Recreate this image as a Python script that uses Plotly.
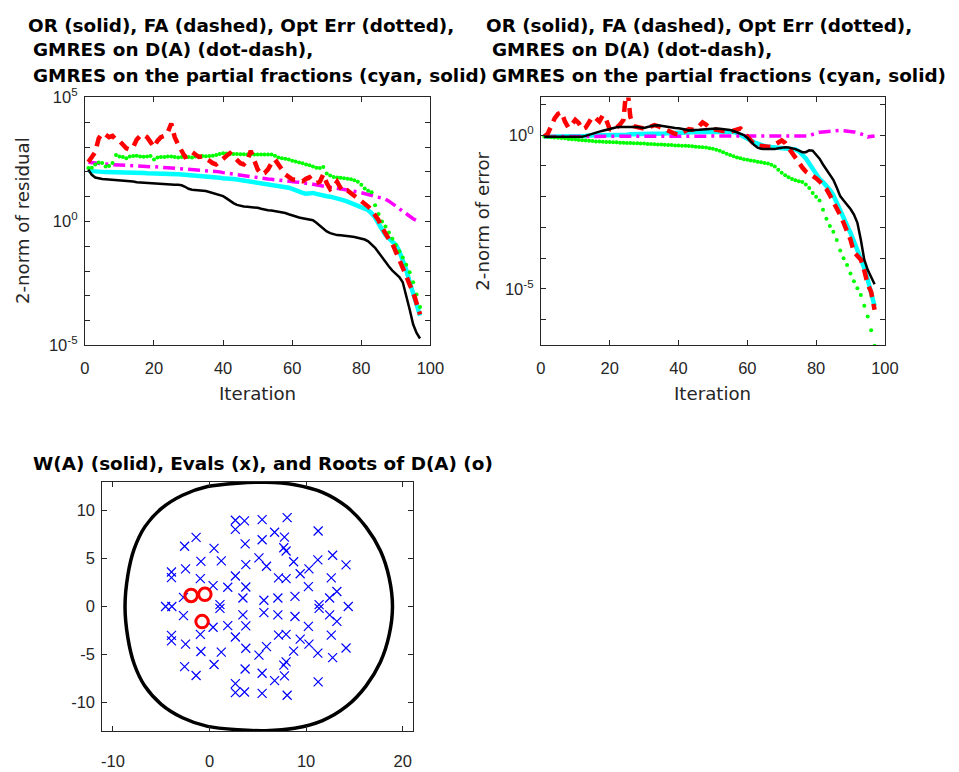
import plotly.graph_objects as go

# ---------------- data ----------------
iterations = list(range(1, 98))

# residual norms (log10), top-left panel
res_or_log10 = [2.09,1.88,1.77,1.73,1.71,1.70,1.69,1.68,1.67,1.67,
 1.66,1.66,1.64,1.61,1.58,1.57,1.56,1.55,1.54,1.53,
 1.52,1.50,1.49,1.49,1.48,1.48,1.48,1.46,1.40,1.32,
 1.28,1.27,1.26,1.25,1.23,1.19,1.15,1.11,1.07,1.02,
 0.93,0.83,0.74,0.67,0.62,0.60,0.59,0.58,0.57,0.55,
 0.51,0.47,0.45,0.44,0.42,0.40,0.38,0.34,0.29,0.24,
 0.20,0.16,0.13,0.10,0.08,0.05,-0.05,-0.18,-0.30,-0.40,
 -0.47,-0.52,-0.55,-0.56,-0.57,-0.59,-0.61,-0.63,-0.66,-0.69,
 -0.73,-0.80,-0.92,-1.06,-1.25,-1.45,-1.65,-1.82,-1.98,-2.12,
 -2.24,-2.45,-2.95,-3.55,-4.15,-4.50,-4.72]

res_fa_log10 = [2.40,2.60,2.80,3.35,3.55,3.50,3.40,3.45,3.30,3.25,
 3.10,2.95,2.90,3.00,3.30,3.45,3.50,3.40,3.20,3.00,
 3.25,3.40,3.45,3.60,3.95,3.40,3.10,2.85,2.60,2.65,
 2.80,2.70,2.60,2.62,2.55,2.45,2.35,2.30,2.40,2.55,
 2.65,2.75,2.60,2.45,2.35,2.30,2.45,2.85,2.50,2.10,
 1.90,1.95,2.10,2.35,2.50,2.30,2.05,1.90,1.80,1.70,
 1.68,1.65,1.62,1.72,1.78,1.62,1.55,1.60,1.90,1.55,
 1.30,1.40,1.60,1.35,1.20,1.25,1.15,1.00,0.90,0.80,
 0.70,0.60,0.45,0.25,0.05,-0.25,-0.50,-0.72,-0.90,-1.20,
 -1.55,-1.85,-2.20,-2.55,-2.85,-3.30,-3.75]

res_opt_log10 = [2.16,2.17,2.30,2.38,2.36,2.22,2.24,2.36,2.68,2.62,
 2.60,2.55,2.62,2.64,2.65,2.62,2.61,2.62,2.64,2.50,
 2.58,2.60,2.60,2.62,2.62,2.60,2.58,2.60,2.62,2.60,
 2.58,2.62,2.63,2.64,2.63,2.64,2.65,2.68,2.72,2.75,
 2.74,2.72,2.72,2.72,2.71,2.71,2.70,2.70,2.70,2.70,
 2.70,2.70,2.70,2.70,2.65,2.58,2.55,2.53,2.50,2.45,
 2.42,2.38,2.35,2.30,2.27,2.22,2.17,2.16,2.20,1.93,
 1.85,1.79,1.77,1.76,1.74,1.72,1.70,1.66,1.60,1.48,
 1.33,1.24,1.18,0.65,0.30,0.00,-0.20,-0.45,-0.70,-0.95,
 -1.20,-1.45,-1.75,-2.05,-2.45,-2.95,-3.45]

res_gm_log10 = [2.39,2.37,2.35,2.34,2.32,2.31,2.30,2.29,2.28,2.28,
 2.27,2.26,2.25,2.25,2.24,2.23,2.23,2.22,2.21,2.21,
 2.20,2.19,2.18,2.17,2.16,2.15,2.14,2.13,2.12,2.11,
 2.10,2.09,2.08,2.07,2.06,2.05,2.04,2.02,2.00,1.97,
 1.95,1.92,1.89,1.86,1.84,1.82,1.80,1.78,1.76,1.74,
 1.73,1.72,1.71,1.70,1.68,1.67,1.65,1.63,1.62,1.60,
 1.59,1.58,1.57,1.55,1.52,1.50,1.47,1.45,1.42,1.40,
 1.38,1.36,1.34,1.32,1.30,1.28,1.25,1.22,1.19,1.16,
 1.12,1.08,1.04,1.00,0.96,0.92,0.90,0.82,0.72,0.60,
 0.48,0.38,0.28,0.19,0.11,0.04,-0.02]

res_pf_log10 = [2.04,2.02,2.01,2.00,2.00,1.99,1.99,1.98,1.98,1.98,
 1.97,1.97,1.97,1.96,1.96,1.95,1.95,1.94,1.94,1.93,
 1.93,1.92,1.92,1.91,1.91,1.90,1.90,1.89,1.88,1.88,
 1.87,1.86,1.86,1.85,1.84,1.82,1.81,1.79,1.76,1.74,
 1.74,1.73,1.71,1.69,1.67,1.66,1.64,1.62,1.60,1.58,
 1.56,1.54,1.52,1.50,1.47,1.45,1.42,1.39,1.36,1.31,
 1.25,1.21,1.15,1.12,1.13,1.15,1.11,1.07,1.05,1.02,
 1.00,0.97,0.93,0.89,0.85,0.80,0.75,0.70,0.64,0.58,
 0.52,0.45,0.33,0.15,-0.10,-0.35,-0.55,-0.68,-0.80,-0.95,
 -1.20,-1.55,-1.95,-2.45,-2.95,-3.40,-3.80]

# error norms (log10), top-right panel
err_or_log10 = [-0.05,-0.05,-0.05,-0.05,-0.05,-0.05,-0.05,-0.05,-0.05,-0.05,
 -0.05,-0.05,-0.02,0.02,0.06,0.09,0.12,0.15,0.18,0.20,
 0.23,0.26,0.27,0.27,0.28,0.28,0.28,0.27,0.25,0.24,
 0.27,0.30,0.32,0.33,0.31,0.28,0.26,0.25,0.24,0.23,
 0.22,0.19,0.16,0.16,0.17,0.18,0.19,0.20,0.21,0.22,
 0.22,0.21,0.20,0.19,0.17,0.14,0.10,0.06,0.01,-0.08,
 -0.20,-0.32,-0.40,-0.44,-0.45,-0.45,-0.46,-0.45,-0.42,-0.40,
 -0.39,-0.40,-0.42,-0.45,-0.50,-0.55,-0.55,-0.49,-0.50,-0.62,
 -0.76,-0.95,-1.12,-1.30,-1.45,-1.70,-1.98,-2.12,-2.26,-2.40,
 -2.58,-2.85,-3.40,-4.05,-4.38,-4.60,-4.85]

err_fa_log10 = [-0.04,0.05,0.30,0.55,0.70,0.75,0.45,0.25,0.35,0.50,
 0.40,0.20,0.25,0.40,0.60,0.55,0.45,0.65,0.50,0.20,
 0.15,0.25,0.35,0.50,1.70,0.60,0.30,0.27,0.25,0.22,
 0.25,0.30,0.33,0.30,0.25,0.18,0.15,0.10,0.05,0.02,
 0.08,0.15,0.20,0.18,0.20,0.30,0.42,0.35,0.25,0.20,
 0.18,0.18,0.15,0.12,0.10,0.15,0.20,0.22,0.10,-0.05,
 -0.20,-0.30,-0.33,-0.35,-0.36,-0.37,-0.37,-0.30,-0.22,-0.17,
 -0.25,-0.42,-0.60,-0.75,-0.90,-1.05,-1.18,-1.25,-1.30,-1.40,
 -1.50,-1.62,-1.75,-1.95,-2.15,-2.40,-2.60,-2.85,-3.10,-3.40,
 -3.80,-3.95,-4.05,-4.40,-4.85,-5.10,-5.68]

err_opt_log10 = [-0.04,-0.05,-0.06,-0.07,-0.08,-0.09,-0.10,-0.12,-0.13,-0.14,
 -0.15,-0.16,-0.17,-0.18,-0.19,-0.20,-0.20,-0.21,-0.22,-0.22,
 -0.23,-0.23,-0.24,-0.24,-0.25,-0.25,-0.26,-0.26,-0.27,-0.27,
 -0.28,-0.28,-0.29,-0.30,-0.30,-0.31,-0.32,-0.32,-0.33,-0.33,
 -0.34,-0.34,-0.35,-0.36,-0.37,-0.38,-0.39,-0.40,-0.42,-0.44,
 -0.47,-0.50,-0.55,-0.60,-0.64,-0.68,-0.72,-0.75,-0.78,-0.80,
 -0.82,-0.84,-0.86,-0.88,-0.90,-0.92,-0.96,-1.02,-1.12,-1.22,
 -1.30,-1.37,-1.42,-1.46,-1.50,-1.52,-1.60,-1.72,-1.88,-2.00,
 -2.12,-2.42,-2.72,-2.95,-3.14,-3.41,-3.75,-4.00,-4.22,-4.50,
 -4.75,-4.98,-5.20,-5.55,-5.90,-6.35,-6.85]

err_gm_log10 = [-0.04,-0.04,-0.04,-0.04,-0.04,-0.04,-0.04,-0.04,-0.04,-0.04,
 -0.04,-0.04,-0.04,-0.04,-0.04,-0.04,-0.04,-0.04,-0.04,-0.04,
 -0.04,-0.04,-0.04,-0.04,-0.04,-0.04,-0.04,-0.04,-0.04,-0.04,
 -0.04,-0.04,-0.04,-0.04,-0.04,-0.04,-0.04,-0.04,-0.04,-0.04,
 -0.04,-0.04,-0.04,-0.04,-0.04,-0.04,-0.04,-0.04,-0.04,-0.04,
 -0.04,-0.04,-0.04,-0.04,-0.04,-0.04,-0.04,-0.04,-0.04,-0.04,
 -0.04,-0.04,-0.04,-0.04,-0.04,-0.04,-0.04,-0.04,-0.04,-0.04,
 -0.04,-0.04,-0.04,-0.04,-0.04,-0.04,-0.04,-0.02,0.03,0.08,
 0.10,0.11,0.12,0.14,0.16,0.16,0.16,0.15,0.14,0.13,
 0.11,0.08,0.05,0.01,-0.05,-0.03,-0.02]

err_pf_log10 = [-0.05,-0.05,-0.05,-0.05,-0.04,-0.04,-0.04,-0.03,-0.03,-0.03,
 -0.02,-0.02,-0.02,-0.01,-0.01,-0.01,0.00,0.00,0.00,0.01,
 0.01,0.01,0.02,0.02,0.02,0.03,0.03,0.03,0.04,0.04,
 0.04,0.05,0.05,0.05,0.06,0.06,0.07,0.07,0.08,0.08,
 0.09,0.09,0.10,0.10,0.11,0.11,0.12,0.12,0.13,0.13,
 0.14,0.14,0.14,0.14,0.13,0.11,0.07,0.02,-0.04,-0.10,
 -0.17,-0.23,-0.28,-0.32,-0.35,-0.37,-0.38,-0.39,-0.40,-0.41,
 -0.42,-0.43,-0.44,-0.46,-0.52,-0.62,-0.75,-0.92,-1.10,-1.27,
 -1.42,-1.52,-1.64,-1.78,-1.95,-2.18,-2.42,-2.65,-2.90,-3.18,
 -3.45,-3.72,-4.00,-4.32,-4.70,-5.10,-5.56]

# field of values boundary W(A), traced counter-clockwise from the rightmost point
wa_re = [18.95,18.60,17.70,16.20,14.20,11.70,8.80,5.80,2.90,-0.20,-2.80,-5.00,-6.70,-7.80,-8.45,-8.75,
         -8.45,-7.80,-6.70,-5.00,-2.80,-0.20,2.90,5.80,8.80,11.70,14.20,16.20,17.70,18.60,18.95]
wa_im = [0.00,3.00,5.80,8.30,10.40,11.90,12.70,12.95,12.85,12.50,11.60,10.20,8.30,6.00,3.30,0.00,
         -3.30,-6.00,-8.30,-10.20,-11.60,-12.50,-12.85,-12.95,-12.70,-11.90,-10.40,-8.30,-5.80,-3.00,0.00]

# eigenvalues
eig_re = [2.68,3.62,2.68,5.45,8.04,11.25,6.74,5.45,7.76,7.69,7.93,3.69,-1.39,-2.58,0.47,5.12,5.90,3.76,
          8.71,11.22,12.75,14.14,10.30,9.39,7.15,7.93,12.61,-0.89,1.22,-2.48,-3.94,-3.94,-0.95,2.68,
          0.37,1.89,3.76,10.24,13.19,12.44,8.85,7.08,5.63,3.46,-2.70,1.08,11.35,
          2.68,3.62,2.68,5.45,8.04,11.25,6.74,5.45,7.76,7.69,7.93,3.69,-1.39,-2.58,0.47,5.12,5.90,3.76,
          8.71,11.22,12.75,14.14,10.30,9.39,7.15,7.93,12.61,-0.89,1.22,-2.48,-3.94,-3.94,-0.95,2.68,
          0.37,1.89,3.76,10.24,13.19,12.44,8.85,7.08,5.63,3.46,-2.70,1.08,11.35,
          -4.55,-3.90,14.37]
eig_im = [8.99,8.92,8.04,9.06,9.26,7.87,7.74,6.96,7.23,6.12,5.78,6.52,7.20,6.28,6.05,5.07,4.19,4.36,
          4.66,4.86,5.34,4.33,3.92,3.41,2.98,2.91,2.98,4.70,4.76,3.92,3.59,3.01,2.91,3.18,
          2.17,2.00,2.03,2.07,1.56,0.88,1.05,0.88,0.65,0.88,0.95,0.20,0.20,
          -8.99,-8.92,-8.04,-9.06,-9.26,-7.87,-7.74,-6.96,-7.23,-6.12,-5.78,-6.52,-7.20,-6.28,-6.05,-5.07,-4.19,-4.36,
          -4.66,-4.86,-5.34,-4.33,-3.92,-3.41,-2.98,-2.91,-2.98,-4.70,-4.76,-3.92,-3.59,-3.01,-2.91,-3.18,
          -2.17,-2.00,-2.03,-2.07,-1.56,-0.88,-1.05,-0.88,-0.65,-0.88,-0.95,-0.20,-0.20,
          0.00,0.00,0.00]

# roots of D(A)
root_re = [-1.90, -0.48, -0.77]
root_im = [1.15, 1.27, -1.58]

# tick labels
iter_ticks = [0, 20, 40, 60, 80, 100]
wa_xticks = [-10, 0, 10, 20]
wa_xticktext = ['-10', '0', '10', '20']
wa_yticks = [-10, -5, 0, 5, 10]
wa_yticktext = ['-10', '-5', '0', '5', '10']

# ---------------- figure ----------------
W, H = 959, 772
def px_x(v): return v / W
def px_y(v): return 1 - v / H

fig = go.Figure()

def pw(arr): return [10 ** v for v in arr]

def add_conv(xa, ya, pf, gm, opt, fa, orr):
    fig.add_trace(go.Scatter(x=iterations, y=pw(pf), mode='lines', xaxis=xa, yaxis=ya,
                             line=dict(color='#00FFFF', width=4.5), showlegend=False))
    fig.add_trace(go.Scatter(x=iterations, y=pw(gm), mode='lines', xaxis=xa, yaxis=ya,
                             line=dict(color='#FF00FF', width=3.5, dash='12px,5px,3px,5px'), showlegend=False))
    fig.add_trace(go.Scatter(x=iterations, y=pw(opt), mode='markers', xaxis=xa, yaxis=ya,
                             marker=dict(color='#00FF00', size=4, line=dict(width=0)), showlegend=False))
    fig.add_trace(go.Scatter(x=iterations, y=pw(fa), mode='lines', xaxis=xa, yaxis=ya,
                             line=dict(color='#FF0000', width=4.5, dash='11px,7px'), showlegend=False))
    fig.add_trace(go.Scatter(x=iterations, y=pw(orr), mode='lines', xaxis=xa, yaxis=ya,
                             line=dict(color='#000000', width=2.5), showlegend=False))

add_conv('x', 'y', res_pf_log10, res_gm_log10, res_opt_log10, res_fa_log10, res_or_log10)
add_conv('x2', 'y2', err_pf_log10, err_gm_log10, err_opt_log10, err_fa_log10, err_or_log10)

fig.add_trace(go.Scatter(x=wa_re, y=wa_im, mode='lines', xaxis='x3', yaxis='y3',
                         line=dict(color='#000000', width=3.5, shape='spline', smoothing=0.8), showlegend=False))
fig.add_trace(go.Scatter(x=eig_re, y=eig_im, mode='markers', xaxis='x3', yaxis='y3',
                         marker=dict(symbol='x-thin-open', size=9, color='#0000FF',
                                     line=dict(color='#0000FF', width=1.2)), showlegend=False))
fig.add_trace(go.Scatter(x=root_re, y=root_im, mode='markers', xaxis='x3', yaxis='y3',
                         marker=dict(symbol='circle-open', size=12.5, color='#FF0000',
                                     line=dict(color='#FF0000', width=3)), showlegend=False))

TICKFONT = dict(family='Liberation Sans, Arial, sans-serif', size=16.5, color='#262626')
def axis_common(**kw):
    d = dict(showline=True, linecolor='#262626', linewidth=1, mirror='ticks', ticks='inside',
             ticklen=5, tickwidth=1, tickcolor='#262626', showgrid=False, zeroline=False,
             tickfont=TICKFONT)
    d.update(kw)
    return d

def sup_text(lo, hi, labeled):
    vals, txt = [], []
    for k in range(lo, hi + 1):
        vals.append(10 ** k)
        txt.append('10<sup>%d</sup>' % k if k in labeled else '')
    return vals, txt

tv1, tt1 = sup_text(-5, 5, [-5, 0, 5])
tv2, tt2 = sup_text(-6, 1, [-5, 0])

fig.update_layout(
    width=W, height=H, margin=dict(l=0, r=0, t=0, b=0),
    paper_bgcolor='white', plot_bgcolor='white', showlegend=False,
    xaxis=axis_common(domain=[px_x(81.5), px_x(434)], range=[0, 100], tickvals=iter_ticks,
                      anchor='y', ticklabelstandoff=8),
    yaxis=axis_common(domain=[px_y(343.3), px_y(88.8)], type='log', range=[-5, 5],
                      tickvals=tv1, ticktext=tt1, anchor='x', ticklabelstandoff=3),
    xaxis2=axis_common(domain=[px_x(546.7), px_x(897.7)], range=[0, 100], tickvals=iter_ticks,
                       anchor='y2', ticklabelstandoff=8),
    yaxis2=axis_common(domain=[px_y(343.3), px_y(88.8)], type='log', range=[-6.84, 1.23],
                       tickvals=tv2, ticktext=tt2, anchor='x2', ticklabelstandoff=3),
    xaxis3=axis_common(domain=[px_x(99.3), px_x(416.5)], range=[-11.1, 21.1],
                       tickvals=wa_xticks, ticktext=wa_xticktext, anchor='y3', ticklabelstandoff=15),
    yaxis3=axis_common(domain=[px_y(739.3), px_y(483.3)], range=[-13, 13],
                       tickvals=wa_yticks, ticktext=wa_yticktext, anchor='x3', ticklabelstandoff=3),
)

TITLEFONT = dict(family='DejaVu Sans', size=18.4, color='#000000', weight='bold')
LABELFONT = dict(family='DejaVu Sans', size=18.2, color='#262626')

ann = []
def add_text(text, x, y, font, xanchor='left', angle=0):
    ann.append(dict(text=text, x=px_x(x), y=px_y(y), xref='paper', yref='paper',
                    xanchor=xanchor, yanchor='middle', showarrow=False, font=font,
                    textangle=angle))

title_lines = ['OR (solid), FA (dashed), Opt Err (dotted),',
               'GMRES on D(A) (dot-dash),',
               'GMRES on the partial fractions (cyan, solid)']
for left in (21, 489):
    add_text(title_lines[0], left, 14.5, TITLEFONT)
    add_text(title_lines[1], left + 6, 40, TITLEFONT)
    add_text(title_lines[2], left + 6, 66, TITLEFONT)

add_text('W(A) (solid), Evals (x), and Roots of D(A) (o)', 263, 465, TITLEFONT, xanchor='center')
add_text('Iteration', 257.7, 393, LABELFONT, xanchor='center')
add_text('Iteration', 722.2, 393, LABELFONT, xanchor='center')
add_text('2-norm of residual', 18, 215, LABELFONT, xanchor='center', angle=-90)
add_text('2-norm of error', 487, 216, LABELFONT, xanchor='center', angle=-90)

fig.update_layout(annotations=ann)
fig.write_html('out.html')
